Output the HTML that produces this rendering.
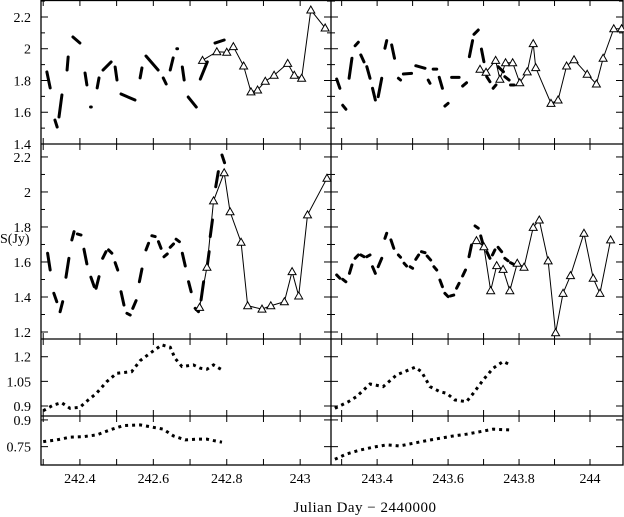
<!DOCTYPE html>
<html><head><meta charset="utf-8"><style>
html,body{margin:0;padding:0;background:#fff;}
svg{display:block;font-family:"Liberation Serif",serif;}
</style></head><body>
<svg id="chart" width="624" height="517" viewBox="0 0 624 517" xmlns="http://www.w3.org/2000/svg">
<text x="0" y="243" font-size="14">S(Jy)</text>
<text x="365" y="512" font-size="15" text-anchor="middle" letter-spacing="0.5">Julian Day − 2440000</text>
</svg>
<script>
// ---- data: dash pairs (every two points form a dash) ----
const p1LDashX=[242.310,242.319,242.332,242.338,242.343,242.351,242.365,242.368,242.381,242.400,242.414,242.419,242.429,242.431,242.447,242.452,242.463,242.485,242.496,242.501,242.512,242.550,242.564,242.569,242.580,242.613,242.627,242.635,242.646,242.654,242.664,242.666,242.679,242.684,242.695,242.717,242.728,242.747,242.768,242.793];
const p1LDashY=[1.854,1.753,1.551,1.507,1.570,1.709,1.866,1.948,2.074,2.036,1.847,1.772,1.633,1.633,1.753,1.816,1.866,1.917,1.885,1.803,1.715,1.677,1.816,1.879,1.954,1.866,1.816,1.778,1.866,1.942,2.000,2.000,1.885,1.803,1.696,1.633,1.809,1.917,2.036,2.055];
const p1LTriX=[242.734,242.773,242.800,242.818,242.846,242.866,242.884,242.905,242.929,242.966,242.984,243.004,243.029,243.068];
const p1LTriY=[1.927,1.981,1.978,2.013,1.891,1.728,1.740,1.795,1.833,1.908,1.833,1.814,2.244,2.131];
const p1RDashX=[243.286,243.295,243.303,243.312,243.321,243.329,243.338,243.347,243.354,243.363,243.371,243.380,243.387,243.395,243.403,243.413,243.422,243.427,243.441,243.449,243.460,243.466,243.474,243.497,243.509,243.535,243.544,243.549,243.558,243.568,243.575,243.584,243.591,243.600,243.610,243.631,243.641,243.652,243.660,243.669,243.673,243.685,243.694,243.701,243.709,243.718,243.727,243.735,243.741,243.756,243.760,243.772,243.776,243.786];
const p1RDashY=[1.809,1.751,1.644,1.619,1.814,1.940,2.019,2.041,1.961,1.917,1.887,1.814,1.751,1.677,1.698,1.814,2.003,2.051,2.024,1.940,1.814,1.803,1.841,1.845,1.893,1.877,1.803,1.782,1.872,1.872,1.820,1.751,1.639,1.656,1.820,1.820,1.765,1.786,1.950,2.051,2.091,2.118,1.998,1.918,1.824,1.792,1.751,1.772,1.887,1.855,1.824,1.803,1.772,1.772];
const p1RTriX=[243.690,243.707,243.734,243.746,243.762,243.782,243.802,243.823,243.840,243.847,243.890,243.910,243.934,243.955,243.992,244.018,244.037,244.067,244.089];
const p1RTriY=[1.871,1.852,1.927,1.808,1.912,1.912,1.786,1.854,2.032,1.881,1.656,1.677,1.891,1.931,1.839,1.778,1.940,2.126,2.126];
const p2LDashX=[242.312,242.319,242.329,242.337,242.346,242.353,242.362,242.370,242.378,242.384,242.393,242.403,242.411,242.419,242.430,242.439,242.444,242.452,242.462,242.471,242.478,242.487,242.496,242.503,242.512,242.520,242.528,242.537,242.544,242.553,242.562,242.569,242.580,242.587,242.596,242.605,242.614,242.621,242.629,242.638,242.646,242.655,242.662,242.671,242.679,242.687,242.696,242.703,242.714,242.723,242.730,242.737,242.746,242.752,242.755,242.761,242.770,242.777,242.787,242.794];
const p2LDashY=[1.650,1.554,1.421,1.373,1.316,1.373,1.513,1.621,1.726,1.773,1.760,1.754,1.673,1.589,1.513,1.459,1.450,1.516,1.621,1.659,1.669,1.650,1.596,1.554,1.430,1.354,1.307,1.297,1.335,1.379,1.487,1.560,1.669,1.707,1.750,1.745,1.716,1.678,1.630,1.646,1.684,1.703,1.730,1.716,1.650,1.577,1.487,1.430,1.335,1.316,1.383,1.487,1.564,1.659,1.745,1.840,2.030,2.116,2.211,2.167];
const p2LTriX=[242.726,242.746,242.764,242.793,242.809,242.839,242.857,242.896,242.920,242.957,242.978,242.996,243.020,243.073];
const p2LTriY=[1.341,1.570,1.949,2.110,1.887,1.713,1.350,1.331,1.350,1.373,1.545,1.406,1.869,2.078];
const p2RDashX=[243.286,243.295,243.303,243.312,243.322,243.329,243.338,243.347,243.354,243.363,243.371,243.380,243.387,243.395,243.403,243.413,243.422,243.427,243.439,243.447,243.460,243.466,243.476,243.483,243.493,243.500,243.509,243.517,243.525,243.535,243.541,243.551,243.560,243.568,243.577,243.584,243.591,243.600,243.607,243.616,243.624,243.631,243.641,243.649,243.659,243.666,243.676,243.685,243.692,243.699,243.709,243.718,243.725,243.732,243.741,243.751,243.760,243.769,243.776,243.788];
const p2RDashY=[1.526,1.507,1.501,1.487,1.535,1.583,1.621,1.640,1.640,1.630,1.630,1.640,1.573,1.535,1.573,1.621,1.735,1.764,1.726,1.678,1.640,1.627,1.593,1.577,1.573,1.564,1.615,1.640,1.659,1.653,1.634,1.611,1.573,1.554,1.497,1.459,1.421,1.402,1.406,1.411,1.450,1.478,1.520,1.554,1.630,1.697,1.806,1.793,1.749,1.697,1.659,1.621,1.640,1.669,1.684,1.659,1.621,1.607,1.596,1.583];
const p2RTriX=[243.680,243.701,243.720,243.737,243.755,243.774,243.795,243.814,243.840,243.857,243.882,243.903,243.924,243.945,243.983,244.009,244.028,244.058];
const p2RTriY=[1.722,1.687,1.436,1.579,1.558,1.436,1.593,1.570,1.798,1.840,1.606,1.196,1.421,1.522,1.764,1.507,1.421,1.726];
const p3LX=[242.300,242.328,242.350,242.373,242.400,242.423,242.445,242.473,242.500,242.541,242.564,242.591,242.623,242.646,242.659,242.678,242.709,242.728,242.746,242.764,242.787];
const p3LY=[0.871,0.906,0.920,0.886,0.892,0.937,0.977,1.048,1.099,1.109,1.176,1.221,1.272,1.258,1.191,1.140,1.150,1.130,1.124,1.150,1.120];
const p3RX=[243.281,243.319,243.342,243.380,243.417,243.455,243.507,243.525,243.549,243.577,243.596,243.619,243.652,243.671,243.699,243.727,243.755,243.776];
const p3RY=[0.886,0.926,0.957,1.034,1.018,1.089,1.136,1.109,1.018,0.987,0.977,0.937,0.926,0.977,1.059,1.130,1.171,1.150];
const p4LX=[242.300,242.337,242.373,242.409,242.446,242.482,242.518,242.564,242.591,242.627,242.655,242.687,242.718,242.746,242.764,242.787];
const p4LY=[0.778,0.788,0.803,0.806,0.816,0.844,0.868,0.872,0.862,0.848,0.810,0.788,0.792,0.792,0.784,0.775];
const p4RX=[243.281,243.314,243.352,243.389,243.427,243.464,243.502,243.540,243.577,243.615,243.652,243.690,243.727,243.774];
const p4RY=[0.679,0.709,0.731,0.747,0.760,0.754,0.769,0.784,0.797,0.810,0.820,0.834,0.848,0.844];
const xTickLabelsL=["242.4","242.6","242.8","243"];
const xTickLabelsR=["243.4","243.6","243.8","244"];

const NS="http://www.w3.org/2000/svg";
const svg=document.getElementById('chart');
function mk(t,a,p){const e=document.createElementNS(NS,t);for(const k in a)e.setAttribute(k,a[k]);(p||svg).appendChild(e);return e;}
const colsX=[{x0:41,x1:331,v0:242.294,v1:243.084},{x0:331,x1:623,v0:243.270,v1:244.093}];
const rows=[{y0:0,y1:144,v0:1.4,v1:2.307,ticks:[1.4,1.5,1.6,1.7,1.8,1.9,2.0,2.1,2.2,2.3],labels:[[1.4,"1.4"],[1.6,"1.6"],[1.8,"1.8"],[2.0,"2"],[2.2,"2.2"]]},
 {y0:144,y1:339,v0:1.16,v1:2.274,ticks:[1.2,1.3,1.4,1.5,1.6,1.7,1.8,1.9,2.0,2.1,2.2],labels:[[1.2,"1.2"],[1.4,"1.4"],[1.6,"1.6"],[1.8,"1.8"],[2.0,"2"],[2.2,"2.2"]]},
 {y0:339,y1:416,v0:0.839,v1:1.308,ticks:[0.9,1.05,1.2],labels:[[0.9,"0.9"],[1.05,"1.05"],[1.2,"1.2"]]},
 {y0:416,y1:465,v0:0.647,v1:0.922,ticks:[0.75,0.9],labels:[[0.75,"0.75"],[0.9,"0.9"]]}];
function sx(c,v){const C=colsX[c];return C.x0+(v-C.v0)/(C.v1-C.v0)*(C.x1-C.x0);}
function sy(r,v){const R=rows[r];return R.y1-(v-R.v0)/(R.v1-R.v0)*(R.y1-R.y0);}

const g=mk('g',{});


mk('rect',{x:41,y:0.5,width:582,height:464.5,fill:'none',stroke:'#000','stroke-width':1.3},g);
mk('line',{x1:331,y1:0,x2:331,y2:465,stroke:'#000','stroke-width':1.3},g);
rows.forEach((R,ri)=>{ if(ri>0) mk('line',{x1:41,y1:R.y0,x2:623,y2:R.y0,stroke:'#000','stroke-width':1.3},g);
  R.ticks.forEach(t=>{const y=sy(ri,t);const major=R.labels.some(l=>Math.abs(l[0]-t)<1e-6);const L=major?7:4;
    [41,331,623].forEach(xx=>{mk('line',{x1:xx-(xx>41?L:0),y1:y,x2:xx+(xx<623?L:0),y2:y,stroke:'#000','stroke-width':1},g);});});
  R.labels.forEach(l=>{const t=mk('text',{x:31,y:sy(ri,l[0])+5,'font-size':14,'text-anchor':'end'});t.textContent=l[1];
    
    });
  colsX.forEach((C,ci)=>{for(let v=Math.ceil(C.v0*10)/10;v<C.v1;v+=0.1){const x=sx(ci,v);
    mk('line',{x1:x,y1:R.y0,x2:x,y2:R.y0+6,stroke:'#000','stroke-width':1},g);
    mk('line',{x1:x,y1:R.y1-6,x2:x,y2:R.y1,stroke:'#000','stroke-width':1},g);}});
});
[[0,xTickLabelsL],[1,xTickLabelsR]].forEach(([ci,labs])=>{labs.forEach(s=>{const t=mk('text',{x:sx(ci,parseFloat(s)),y:483,'font-size':14,'text-anchor':'middle'});t.textContent=s;
  
  });});

function dashes(c,r,X,Y,name){const gg=mk('g',{});
  
  
  for(let i=0;i+1<X.length;i+=2){const x1=sx(c,X[i]),y1=sy(r,Y[i]),x2=sx(c,X[i+1]),y2=sy(r,Y[i+1]);
    mk('line',{x1:x1,y1:y1,x2:x2+(x1===x2&&y1===y2?1:0),y2:y2,stroke:'#000','stroke-width':3,'stroke-linecap':'round'},gg);}}
function dots(c,r,X,Y,name){const gg=mk('g',{});
  
  
  const pts=X.map((v,i)=>sx(c,v)+','+sy(r,Y[i])).join(' ');
  mk('polyline',{points:pts,fill:'none',stroke:'#000','stroke-width':3,'stroke-dasharray':'3,4'},gg);}
function tris(c,r,X,Y,name){const gg=mk('g',{});
  
  
  mk('polyline',{points:X.map((v,i)=>sx(c,v)+','+sy(r,Y[i])).join(' '),fill:'none',stroke:'#000','stroke-width':1},gg);
  X.forEach((v,i)=>{const x=sx(c,v),y=sy(r,Y[i]);mk('polygon',{points:`${x},${y-4} ${x-4},${y+3} ${x+4},${y+3}`,fill:'#fff',stroke:'#000','stroke-width':1},gg);});}
dashes(0,0,p1LDashX,p1LDashY,'top-left-dashed-series');
tris(0,0,p1LTriX,p1LTriY,'top-left-triangle-series');
dashes(1,0,p1RDashX,p1RDashY,'top-right-dashed-series');
tris(1,0,p1RTriX,p1RTriY,'top-right-triangle-series');
dashes(0,1,p2LDashX,p2LDashY,'mid-left-dashed-series');
tris(0,1,p2LTriX,p2LTriY,'mid-left-triangle-series');
dashes(1,1,p2RDashX,p2RDashY,'mid-right-dashed-series');
tris(1,1,p2RTriX,p2RTriY,'mid-right-triangle-series');
dots(0,2,p3LX,p3LY,'third-left-series');
dots(1,2,p3RX,p3RY,'third-right-series');
dots(0,3,p4LX,p4LY,'bottom-left-series');
dots(1,3,p4RX,p4RY,'bottom-right-series');
</script>
</body></html>
